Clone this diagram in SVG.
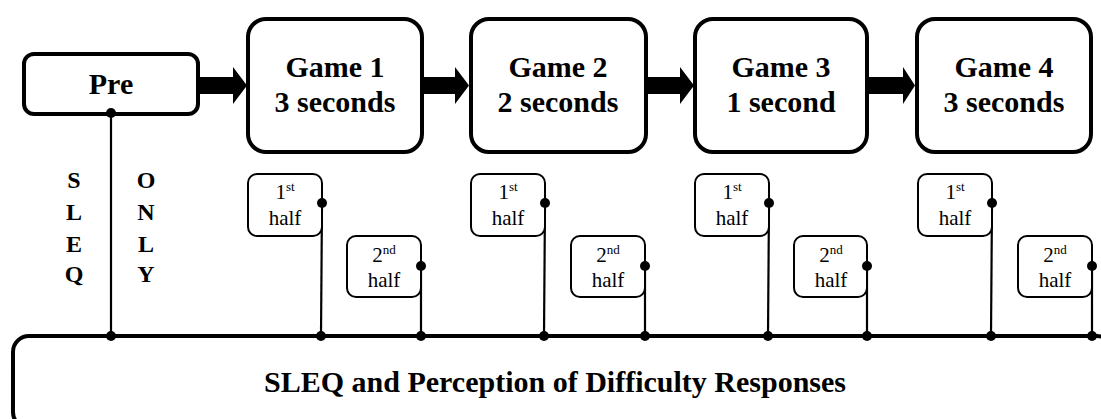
<svg xmlns="http://www.w3.org/2000/svg" width="1101" height="419" viewBox="0 0 1101 419">
<style>
.box{fill:#fff;stroke:#000;stroke-width:4}
.half{fill:#fff;stroke:#000;stroke-width:2}
.t{font-family:'Liberation Serif','DejaVu Serif',serif;fill:#000;text-anchor:middle}
.b{font-weight:bold;font-size:30px}
.v{font-weight:bold;font-size:24px}
.h{font-size:21px}
.sup{font-size:13px}
.ln{stroke:#000;stroke-width:2.2;fill:none}
.arr{fill:#000}
.dot{fill:#000}
</style>
<rect width="1101" height="419" fill="#fff"/>
<g id="connectors">
  <polygon class="arr" points="199,77 233,77 233,67 247,85.5 233,104 233,94 199,94"/>
  <polygon class="arr" points="423,77 455,77 455,67 469,85.5 455,104 455,94 423,94"/>
  <polygon class="arr" points="647,77 680,77 680,67 694,85.5 680,104 680,94 647,94"/>
  <polygon class="arr" points="868,77 903,77 903,67 915,85.5 903,104 903,94 868,94"/>
  <line class="ln" x1="111" y1="113" x2="111" y2="336"/>
  <line class="ln" x1="322" y1="203" x2="321" y2="336"/>
  <line class="ln" x1="421" y1="266" x2="421" y2="336"/>
  <line class="ln" x1="545" y1="203" x2="544" y2="336"/>
  <line class="ln" x1="645" y1="266" x2="645" y2="336"/>
  <line class="ln" x1="769" y1="203" x2="768" y2="336"/>
  <line class="ln" x1="867" y1="266" x2="867" y2="336"/>
  <line class="ln" x1="992" y1="203" x2="991" y2="336"/>
  <line class="ln" x1="1092" y1="266" x2="1092" y2="336"/>
</g>
<g id="bottom">
  <rect class="box" x="13" y="336" width="1100" height="92" rx="16"/>
  <text class="t b" x="555" y="392">SLEQ and Perception of Difficulty Responses</text>
</g>
<g id="pre">
  <rect class="box" x="24" y="54" width="174" height="60" rx="10"/>
  <text class="t b" x="111" y="94">Pre</text>
</g>
<g id="sleq-only">
  <text class="t v" x="74" y="188">S</text>
  <text class="t v" x="74" y="220">L</text>
  <text class="t v" x="74" y="252">E</text>
  <text class="t v" x="74" y="282">Q</text>
  <text class="t v" x="146" y="188">O</text>
  <text class="t v" x="146" y="220">N</text>
  <text class="t v" x="146" y="252">L</text>
  <text class="t v" x="146" y="282">Y</text>
</g>
<g id="game1">
  <rect class="box" x="248" y="19" width="174" height="133" rx="18"/>
  <text class="t b" x="335" y="77">Game 1</text>
  <text class="t b" x="335" y="112">3 seconds</text>
</g>
<g id="game2">
  <rect class="box" x="471" y="19" width="175" height="133" rx="18"/>
  <text class="t b" x="558" y="77">Game 2</text>
  <text class="t b" x="558" y="112">2 seconds</text>
</g>
<g id="game3">
  <rect class="box" x="695" y="19" width="172" height="133" rx="18"/>
  <text class="t b" x="781" y="77">Game 3</text>
  <text class="t b" x="781" y="112">1 second</text>
</g>
<g id="game4">
  <rect class="box" x="917" y="19" width="174" height="133" rx="18"/>
  <text class="t b" x="1004" y="77">Game 4</text>
  <text class="t b" x="1004" y="112">3 seconds</text>
</g>
<g id="g1-half1">
  <rect class="half" x="248" y="174" width="74" height="62" rx="9"/>
  <text class="t h" x="285" y="199">1<tspan class="sup" dy="-8">st</tspan></text>
  <text class="t h" x="285" y="225">half</text>
</g>
<g id="g1-half2">
  <rect class="half" x="347" y="236" width="74" height="61" rx="9"/>
  <text class="t h" x="384" y="262">2<tspan class="sup" dy="-8">nd</tspan></text>
  <text class="t h" x="384" y="287">half</text>
</g>
<g id="g2-half1">
  <rect class="half" x="471" y="174" width="74" height="62" rx="9"/>
  <text class="t h" x="508" y="199">1<tspan class="sup" dy="-8">st</tspan></text>
  <text class="t h" x="508" y="225">half</text>
</g>
<g id="g2-half2">
  <rect class="half" x="571" y="236" width="74" height="61" rx="9"/>
  <text class="t h" x="608" y="262">2<tspan class="sup" dy="-8">nd</tspan></text>
  <text class="t h" x="608" y="287">half</text>
</g>
<g id="g3-half1">
  <rect class="half" x="695" y="174" width="74" height="62" rx="9"/>
  <text class="t h" x="732" y="199">1<tspan class="sup" dy="-8">st</tspan></text>
  <text class="t h" x="732" y="225">half</text>
</g>
<g id="g3-half2">
  <rect class="half" x="794" y="236" width="73" height="61" rx="9"/>
  <text class="t h" x="831" y="262">2<tspan class="sup" dy="-8">nd</tspan></text>
  <text class="t h" x="831" y="287">half</text>
</g>
<g id="g4-half1">
  <rect class="half" x="918" y="174" width="74" height="62" rx="9"/>
  <text class="t h" x="955" y="199">1<tspan class="sup" dy="-8">st</tspan></text>
  <text class="t h" x="955" y="225">half</text>
</g>
<g id="g4-half2">
  <rect class="half" x="1018" y="236" width="74" height="61" rx="9"/>
  <text class="t h" x="1055" y="262">2<tspan class="sup" dy="-8">nd</tspan></text>
  <text class="t h" x="1055" y="287">half</text>
</g>
<g id="dots">
  <circle class="dot" cx="111" cy="113" r="5"/>
  <circle class="dot" cx="111" cy="336" r="5"/>
  <circle class="dot" cx="322" cy="203" r="5"/>
  <circle class="dot" cx="321" cy="336" r="5"/>
  <circle class="dot" cx="421" cy="266" r="5"/>
  <circle class="dot" cx="421" cy="336" r="5"/>
  <circle class="dot" cx="545" cy="203" r="5"/>
  <circle class="dot" cx="544" cy="336" r="5"/>
  <circle class="dot" cx="645" cy="266" r="5"/>
  <circle class="dot" cx="645" cy="336" r="5"/>
  <circle class="dot" cx="769" cy="203" r="5"/>
  <circle class="dot" cx="768" cy="336" r="5"/>
  <circle class="dot" cx="867" cy="266" r="5"/>
  <circle class="dot" cx="867" cy="336" r="5"/>
  <circle class="dot" cx="992" cy="203" r="5"/>
  <circle class="dot" cx="991" cy="336" r="5"/>
  <circle class="dot" cx="1092" cy="266" r="5"/>
  <circle class="dot" cx="1092" cy="336" r="5"/>
</g>
</svg>
